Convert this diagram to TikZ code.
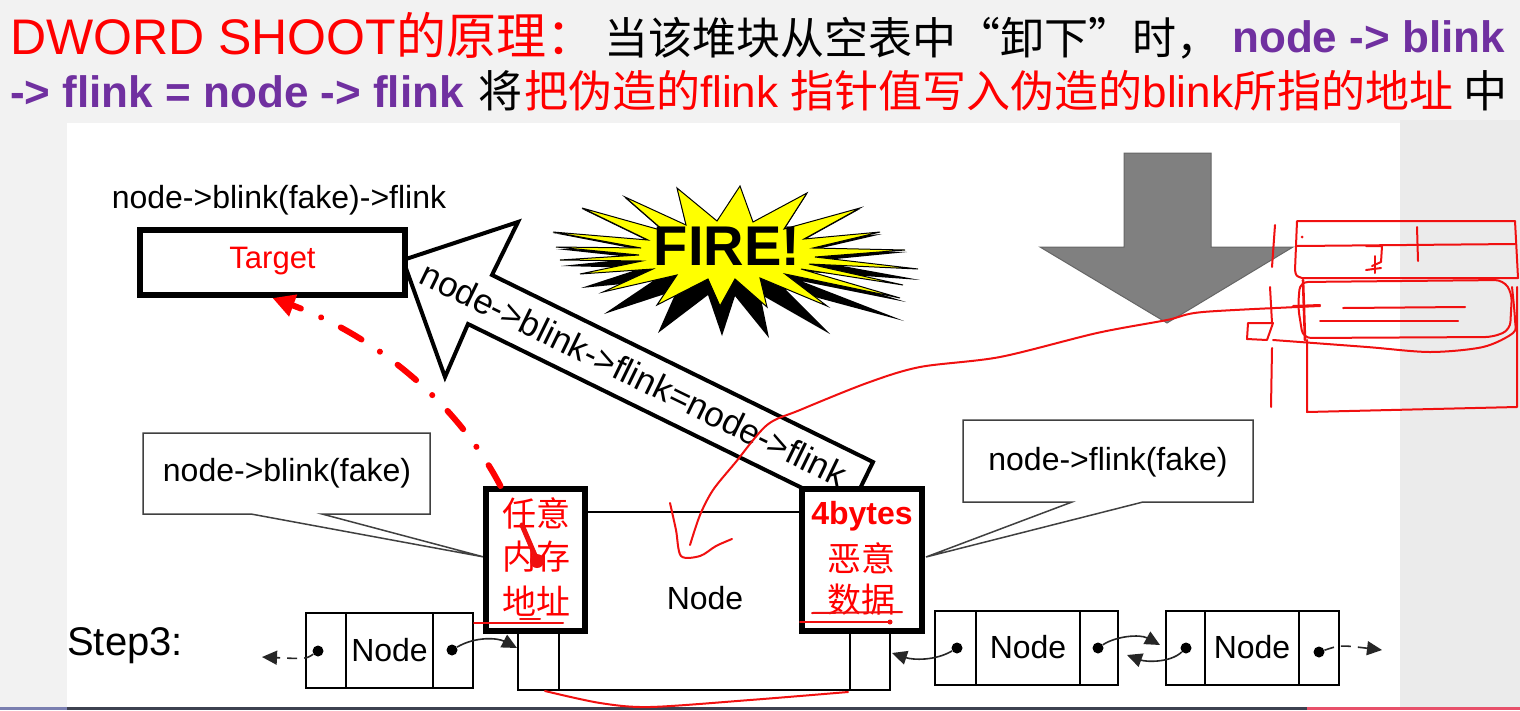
\documentclass[tikz,border=0pt]{standalone}
\usepackage{fontspec}
\setmainfont{Liberation Sans}
\newfontfamily\cjk[RawFeature={+fwid}]{Noto Sans CJK SC}
\usetikzlibrary{arrows.meta,calc}
\definecolor{hired}{HTML}{FF0000}
\definecolor{linkpurple}{HTML}{7030A0}
\definecolor{slidebg}{HTML}{F2F2F2}
\definecolor{sidebg}{HTML}{EBEBEB}
\definecolor{arrowgray}{HTML}{808080}
\definecolor{firey}{HTML}{FFFF00}
\definecolor{penred}{HTML}{F01010}
\definecolor{barblue}{HTML}{7A7FB0}
\definecolor{bardark}{HTML}{3D4150}
\definecolor{barpink}{HTML}{E8506A}
\newcommand\setfs[1]{\fontsize{#1}{#1}\selectfont}

\begin{document}
\begin{tikzpicture}[x=1pt,y=-1pt,
  lbl/.style={inner sep=0, font=\setfs{32}},
  thinbox/.style={draw=black, line width=1.4, fill=white, inner sep=0},
  thickbox/.style={draw=black, line width=6, fill=white, inner sep=0},
  callout/.style={draw=black!75, line width=1.5, fill=white, line join=miter},
  dotmark/.style={circle, fill=black, inner sep=0, minimum size=11},
  link/.style={line width=1.6, draw=black!85, -{Triangle[length=15,width=14]}},
  redtxt/.style={inner sep=0, text=hired, font=\cjk\setfs{34}},
  pen/.style={draw=penred, line width=2, line cap=round, line join=round},
]
\useasboundingbox (0,0) rectangle (1520,710);

% slide background and drawing area
\fill[slidebg] (0,0) rectangle (1520,710);
\fill[sidebg] (1400,120) rectangle (1520,707);
\fill[white] (67,123) rectangle (1400,707);
\fill[barblue] (0,707) rectangle (67,710);
\fill[bardark] (67,707) rectangle (1307,710);
\fill[barpink] (1307,707) rectangle (1520,710);

% heading, line 1
\node[anchor=base west, inner sep=0, text=hired] (h1a) at (10,54) {\setfs{50}DWORD SHOOT};
\node[anchor=base west, inner sep=0, text=hired] (h1b) at (h1a.base east) {\setfs{50}\cjk 的原理：};
\node[anchor=base west, inner sep=0] (h1c) at (604,54) {\setfs{44}\cjk 当该堆块从空表中“卸下”时，};
\node[anchor=base east, inner sep=0, text=linkpurple] (h1d) at (1505,52) {\setfs{44}\bfseries node -> blink};
% heading, line 2
\node[anchor=base west, inner sep=0, text=linkpurple] (h2a) at (10,107) {\setfs{44}\bfseries -> flink = node -> flink};
\node[anchor=base west, inner sep=0] (h2b) at (478,107) {\setfs{44}\cjk 将};
\node[anchor=base west, inner sep=0, text=hired] (h2c) at (524,107)
  {\setfs{44}{\cjk 把伪造的}flink {\cjk 指针值写入伪造的}blink{\cjk 所指的地址}};
\node[anchor=base east, inner sep=0] (h2d) at (1508,107) {\setfs{44}\cjk 中};

% grey down arrow
\draw[fill=arrowgray, draw=black!60, line width=1]
  (1124,153) -- (1211,153) -- (1211,247) -- (1293,247) -- (1167,323)
  -- (1040,247) -- (1124,247) -- cycle;

% FIRE! burst: dark underlay, then yellow burst
\fill[black, line join=miter] (553,233) -- (648,241) -- (582,209) -- (664,232) -- (625,198) -- (686,226)
  -- (677,189) -- (717,222) -- (740,187) -- (753,223) -- (807,194) -- (784,230)
  -- (860,209) -- (804,240) -- (882,234) -- (813,250) -- (907,252) -- (815,261)
  -- (920,280) -- (809,272) -- (906,302) -- (801,281) -- (904,321) -- (785,289)
  -- (830,334) -- (760,294) -- (769,338) -- (735,296) -- (722,336) -- (708,295)
  -- (658,333) -- (677,290) -- (604,314) -- (653,281) -- (581,288) -- (642,268)
  -- (561,266) -- (639,258) -- (556,249) -- (641,250) -- cycle;
\draw[fill=firey, draw=black, line width=1, line join=miter]
  (553,232) -- (648,240) -- (582,208) -- (664,231) -- (625,197) -- (686,225)
  -- (677,188) -- (717,221) -- (740,186) -- (753,222) -- (807,193) -- (784,229)
  -- (860,208) -- (804,239) -- (880,232) -- (813,248) -- (905,250) -- (815,257)
  -- (918,269) -- (809,264) -- (903,285) -- (801,269) -- (900,298) -- (785,274)
  -- (827,306) -- (760,278) -- (767,307) -- (735,279) -- (720,306) -- (708,279)
  -- (657,305) -- (677,275) -- (603,292) -- (653,269) -- (580,274) -- (642,261)
  -- (560,260) -- (639,255) -- (556,247) -- (641,248) -- cycle;
\node[inner sep=0, font=\bfseries\setfs{56}] (fire) at (727,246) {FIRE!};

% big hollow arrow carrying the assignment
\draw[fill=white, draw=black, line width=4, line join=miter]
  (403,260) -- (518,222) -- (492,275) -- (873,462) -- (849,511)
  -- (468,324) -- (445,377) -- cycle;
\node[inner sep=0, font=\setfs{35}, rotate=-26] (shot) at (634,374) {node->blink->flink=node->flink};

% target box
\node[lbl] (tgtlbl) at (279,200) {node->blink(fake)->flink};
\node[thickbox, minimum width=265, minimum height=65] (target) at (272.5,262.5) {};
\node[lbl, text=hired, font=\setfs{31}] (tgttxt) at (272.5,261) {Target};

% callouts
\draw[callout] (143,433) -- (430,433) -- (430,514) -- (322,514) -- (484,557)
  -- (251,514) -- (143,514) -- cycle;
\node[lbl] (cbl) at (287,473) {node->blink(fake)};
\draw[callout] (963,420) -- (1253,420) -- (1253,502) -- (1143,502) -- (926,557)
  -- (1072,502) -- (963,502) -- cycle;
\node[lbl] (cfl) at (1108,462) {node->flink(fake)};

% the node being unlinked
\node[thinbox, minimum width=372, minimum height=178] (bign) at (704,601) {};
\draw[line width=1.4] (559,634) -- (559,690) (850,634) -- (850,690);
\node[lbl] (bigtxt) at (705,598) {Node};
\node[thickbox, minimum width=99, minimum height=142] (anyaddr) at (535.5,560) {};
\node[thickbox, minimum width=120, minimum height=142] (evil) at (862,560) {};
\node[redtxt] (a1) at (536,513) {任意};
\node[redtxt] (a2) at (536,557) {内存};
\node[redtxt] (a3) at (536,601) {地址};
\node[redtxt, font=\bfseries\setfs{32}] (e1) at (862,516) {4bytes};
\node[redtxt] (e2) at (861,558) {恶意};
\node[redtxt] (e3) at (861,600) {数据};

% red dash-dot pointer to the target
\draw[hired, line width=6, line cap=round, dash pattern=on 24 off 22 on 0.1 off 22,
      -{Triangle[length=22,width=22]}]
  ([xshift=-35]anyaddr.north) .. controls (450,390) and (360,330) .. (target.south);

% neighbouring free-list nodes
\node[lbl, font=\setfs{40}, anchor=base west] (step) at (67,655) {Step3:};
\node[thinbox, minimum width=40, minimum height=75] (lA) at (326,650.5) {};
\node[thinbox, minimum width=87, minimum height=75] (lB) at (389.5,650.5) {};
\node[thinbox, minimum width=40, minimum height=75] (lC) at (453,650.5) {};
\node[lbl] (lBt) at (389.5,650) {Node};
\node[thinbox, minimum width=41, minimum height=74] (r1A) at (955.5,648) {};
\node[thinbox, minimum width=104, minimum height=74] (r1B) at (1028,648) {};
\node[thinbox, minimum width=38, minimum height=74] (r1C) at (1099,648) {};
\node[lbl] (r1Bt) at (1028,647) {Node};
\node[thinbox, minimum width=39, minimum height=74] (r2A) at (1185.5,648) {};
\node[thinbox, minimum width=94, minimum height=74] (r2B) at (1252,648) {};
\node[thinbox, minimum width=40, minimum height=74] (r2C) at (1319,648) {};
\node[lbl] (r2Bt) at (1252,647) {Node};

\node[dotmark] (dL1) at (318,651) {};
\node[dotmark] (dL2) at (452,650) {};
\node[dotmark] (dR1) at (957,648) {};
\node[dotmark] (dR2) at (1098,648) {};
\node[dotmark] (dR3) at (1186,648) {};
\node[dotmark] (dR4) at (1319,652) {};
\coordinate (endL) at (262,657);
\coordinate (inL) at (517,648);
\coordinate (inR) at (892,653);
\coordinate (in2) at (1160,645);
\coordinate (in1) at (1127,655);
\coordinate (endR) at (1382,650);

\draw[link, dash pattern=on 10 off 7] (dL1) .. controls (306,659) .. (endL);
\draw[link] (dL2) .. controls (476,636) and (498,638) .. (inL);
\draw[link] (dR1) .. controls (935,661) and (913,660) .. (inR);
\draw[link] (dR2) .. controls (1116,636) and (1140,634) .. (in2);
\draw[link] (dR3) .. controls (1170,663) and (1146,662) .. (in1);
\draw[link, dash pattern=on 10 off 7] (dR4) .. controls (1340,645) .. (endR);

% red pen annotations
\draw[pen] plot[smooth] coordinates {(690,545) (700,515) (713,490) (735,463) (767,425)
  (800,410) (867,383) (920,367) (1000,357) (1097,333) (1167,320) (1203,312) (1320,306)};
\draw[pen] plot[smooth] coordinates {(670,503) (676,530) (681,556) (700,556) (716,546) (732,539)};
\draw[pen] plot[smooth] coordinates {(545,691) (600,703) (650,707) (750,700) (848,692)};
\draw[pen, line width=5] (522,525) -- (537,560);
\fill[penred] (537,561) circle (7);
\draw[pen] (474,623) -- (563,623);
\draw[pen] (520,619) -- (540,619);
\draw[pen] (812,613) -- (902,612);
\draw[pen] (800,622) -- (890,622);
\fill[penred] (890,622) circle (2.5);

\draw[pen] (1297,221) -- (1515,221) -- (1518,278) -- (1302,278)
  .. controls (1296,276) .. (1295,270) -- (1297,221);
\draw[pen] (1297,246) -- (1515,244);
\draw[pen] (1417,227) -- (1418,261);
\draw[pen] (1366,246) -- (1382,246) -- (1381,262) -- (1372,266);
\draw[pen] (1366,270) -- (1381,268);
\draw[pen] (1375,256) -- (1375,273);
\fill[penred] (1302,237) circle (1.5);
\draw[pen, rounded corners=8] (1300,282) -- (1503,280) -- (1512,293) -- (1510,330)
  -- (1493,337) -- (1303,338) -- (1298,307) -- cycle;
\draw[pen] plot[smooth] coordinates {(1273,340) (1367,347) (1430,352) (1483,347)
  (1513,333) (1515,320) (1512,287)};
\draw[pen] (1343,308) -- (1465,307);
\draw[pen] (1320,321) -- (1458,321);
\draw[pen, line width=2.6] (1303,280) -- (1305,340);
\draw[pen] (1293,306) -- (1320,305);
\draw[pen] (1307,340) -- (1307,412) -- (1517,407) -- (1517,287);
\draw[pen] (1275,225) -- (1272,267);
\draw[pen] (1270,287) -- (1272,323);
\draw[pen] (1248,323) -- (1273,323) -- (1267,340) -- (1247,339) -- cycle;
\draw[pen] (1272,348) -- (1271,407);
\end{tikzpicture}
\end{document}
